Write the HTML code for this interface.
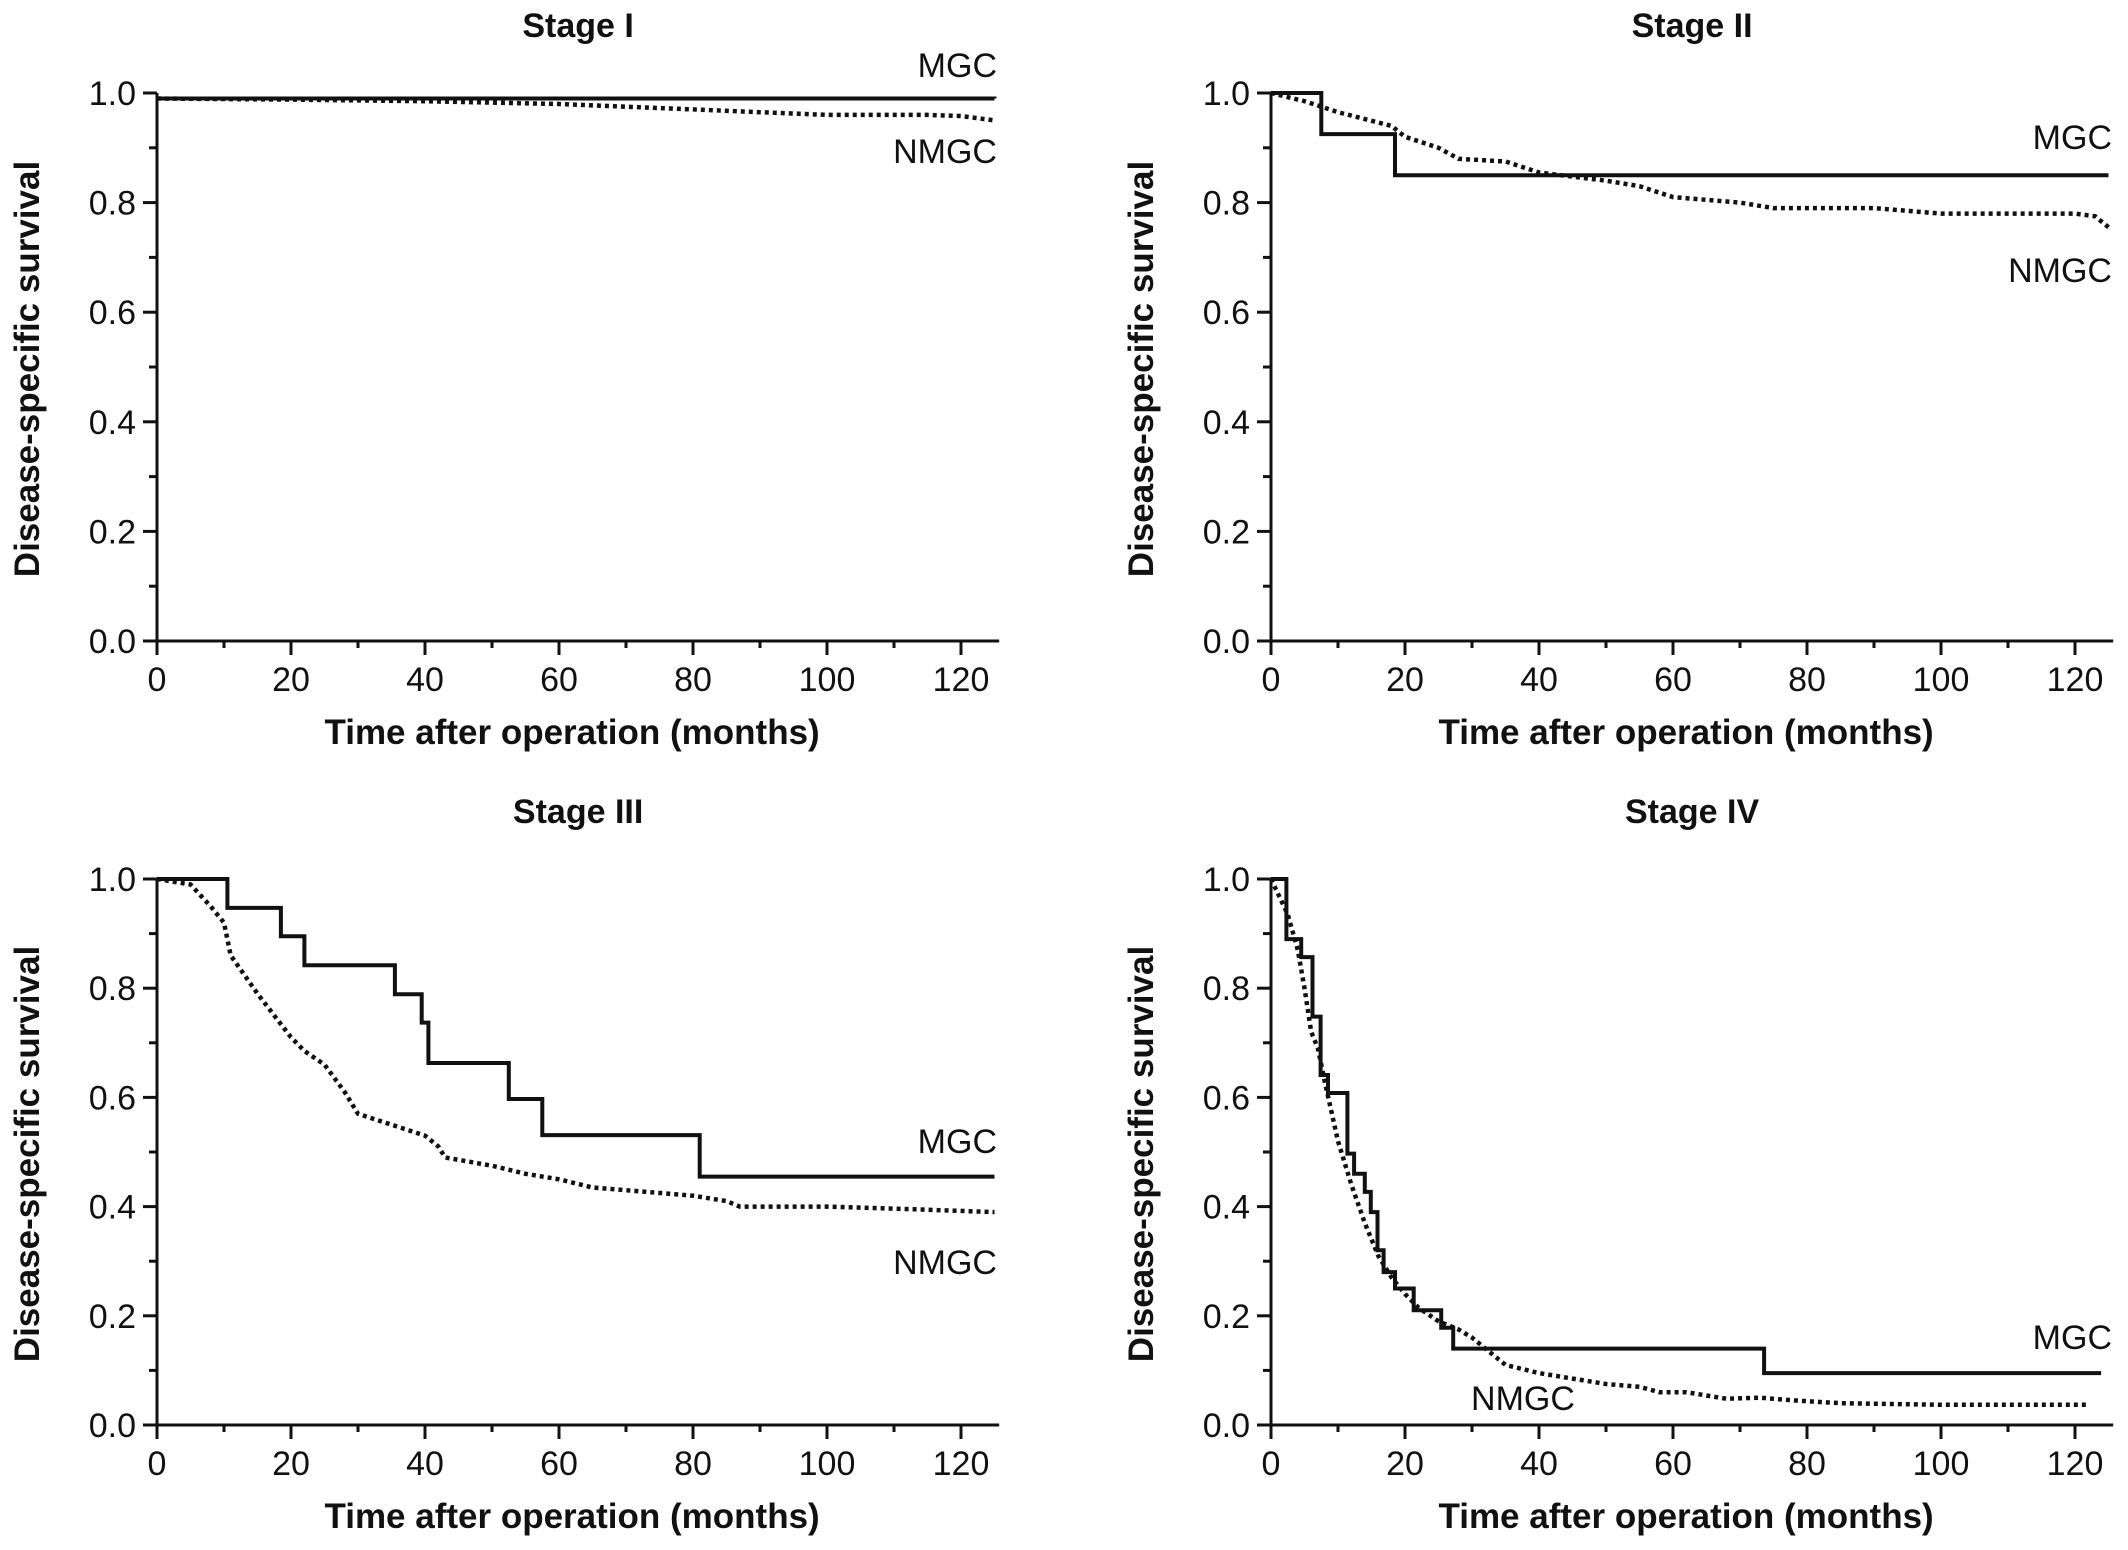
<!DOCTYPE html>
<html><head><meta charset="utf-8">
<style>
html,body{margin:0;padding:0;background:#fff;}
svg{display:block;}
text{font-family:"Liberation Sans Narrow","Liberation Sans",Arial,sans-serif;fill:#111;}
.tick{font-size:34px;}
.lbl{font-size:34px;}
.title{font-family:"Liberation Sans",Arial,sans-serif;font-weight:bold;font-size:34px;}
.axt{font-family:"Liberation Sans",Arial,sans-serif;font-weight:bold;font-size:35px;}
</style></head>
<body>
<svg id="chart" width="2128" height="1550" viewBox="0 0 2128 1550" xmlns="http://www.w3.org/2000/svg"></svg>
<script>
// ---- data ----
const xTicks = [0,20,40,60,80,100,120];
const yTicks = [0.0,0.2,0.4,0.6,0.8,1.0];
const stageTitles = ["Stage I","Stage II","Stage III","Stage IV"];
// MGC step curves: [time, survival after time]
const mgc1 = [[0,0.99],[125,0.99]];
const mgc2 = [[0,1.0],[7.5,0.925],[18.5,0.85],[125,0.85]];
const mgc3 = [[0,1.0],[10.5,0.947],[18.5,0.895],[22,0.842],[35.5,0.789],[39.5,0.737],[40.5,0.663],[52.5,0.597],[57.5,0.531],[81,0.455],[125,0.455]];
const mgc4 = [[0,1.0],[2.3,0.89],[4.5,0.857],[6.2,0.748],[7.4,0.641],[8.5,0.608],[11.4,0.497],[12.4,0.46],[14.0,0.427],[14.9,0.39],[15.9,0.32],[16.8,0.28],[18.5,0.25],[21.3,0.21],[25.4,0.178],[27.2,0.14],[73.6,0.095],[123.9,0.095]];
// NMGC curves
const nmgc1 = [[0,0.99],[20,0.988],[40,0.985],[60,0.98],[80,0.97],[90,0.965],[100,0.96],[115,0.96],[120,0.958],[125,0.95]];
const nmgc2 = [[0,1.0],[5,0.985],[10,0.965],[18,0.94],[20,0.92],[25,0.9],[28,0.88],[35,0.875],[40,0.855],[50,0.84],[55,0.83],[60,0.81],[70,0.80],[75,0.79],[90,0.79],[100,0.78],[120,0.78],[123,0.775],[125,0.755]];
const nmgc3 = [[0,1.0],[5,0.99],[8,0.95],[10,0.92],[11,0.86],[15,0.79],[20,0.71],[22,0.685],[25,0.66],[28,0.61],[30,0.57],[35,0.55],[40,0.53],[42,0.51],[43,0.49],[50,0.475],[55,0.46],[60,0.45],[65,0.435],[70,0.43],[80,0.42],[85,0.41],[87,0.40],[100,0.40],[113,0.395],[125,0.39]];
const nmgc4 = [[0,1.0],[2.5,0.935],[4,0.87],[5,0.80],[6,0.72],[7,0.69],[8,0.63],[10,0.52],[12,0.44],[14,0.37],[16,0.31],[18,0.27],[20,0.24],[22,0.215],[25,0.19],[28,0.175],[30,0.16],[33,0.13],[35,0.11],[40,0.095],[45,0.085],[50,0.075],[55,0.07],[58,0.06],[62,0.06],[68,0.048],[73,0.05],[78,0.045],[85,0.04],[100,0.037],[122,0.037]];
const mgcSeries = [mgc1,mgc2,mgc3,mgc4];
const nmgcSeries = [nmgc1,nmgc2,nmgc3,nmgc4];

// ---- layout ----
const NS="http://www.w3.org/2000/svg";
const svg=document.getElementById('chart');
const panels=[
 {x0:157,y0:641,y1:93, mgcL:[997,77,'end'], nmgcL:[997,163,'end']},
 {x0:1271,y0:641,y1:93, mgcL:[2112,149,'end'], nmgcL:[2112,282,'end']},
 {x0:157,y0:1425,y1:879, mgcL:[997,1153,'end'], nmgcL:[997,1274,'end']},
 {x0:1271,y0:1425,y1:879, mgcL:[2112,1349,'end'], nmgcL:[1523,1410,'middle']}
];
const PXM=6.7, XMAX=125.7;
function el(tag,attrs,parent){const e=document.createElementNS(NS,tag);for(const k in attrs)e.setAttribute(k,attrs[k]);(parent||svg).appendChild(e);return e;}

panels.forEach((p,i)=>{
 const g=el('g',{});
 
 
 const sx=t=>p.x0+t*PXM;
 const sy=v=>p.y0-(p.y0-p.y1)*v;
 const xEnd=sx(XMAX);
 const tt=el('text',{x:(p.x0+xEnd)/2,y:p.y1-56,'text-anchor':'middle','class':'title'},g);
 tt.textContent=stageTitles[i];
 
 
 const ax=el('path',{d:`M${p.x0},${sy(1)} V${p.y0} H${xEnd}`,stroke:'#111','stroke-width':3,fill:'none'},g);
 
 
 for(let v=0;v<=10;v++){const y=sy(v/10);const L=(v%2==0)?14:8;el('line',{x1:p.x0-L,x2:p.x0,y1:y,y2:y,stroke:'#111','stroke-width':3},g);}
 for(let t=0;t<=120;t+=10){const x=sx(t);const L=(t%20==0)?14:7;el('line',{x1:x,x2:x,y1:p.y0,y2:p.y0+L,stroke:'#111','stroke-width':3},g);}
 yTicks.forEach(v=>{const t=el('text',{x:p.x0-21,y:sy(v)+12,'text-anchor':'end','class':'tick'},g);t.textContent=v.toFixed(1);
  
  });
 xTicks.forEach(v=>{const t=el('text',{x:sx(v),y:p.y0+50,'text-anchor':'middle','class':'tick'},g);t.textContent=v;
  
  });
 const xt=el('text',{x:(p.x0+xEnd)/2-6,y:p.y0+103,'text-anchor':'middle','class':'axt'},g);
 xt.textContent='Time after operation (months)';
 
 
 const cy=(p.y0+p.y1)/2+2, cx=p.x0-118;
 const yt=el('text',{x:cx,y:cy,'text-anchor':'middle','class':'axt',transform:`rotate(-90 ${cx} ${cy})`},g);
 yt.textContent='Disease-specific survival';
 
 
 const n=nmgcSeries[i];
 let d=n.map((q,k)=>(k?'L':'M')+sx(q[0]).toFixed(1)+','+sy(q[1]).toFixed(1)).join(' ');
 const nl=el('path',{d:d,stroke:'#111','stroke-width':4.5,fill:'none','stroke-dasharray':'4 4'},g);
 
 
 const m=mgcSeries[i];
 let ds='M'+sx(m[0][0])+','+sy(m[0][1]);
 for(let k=1;k<m.length;k++){ds+=' H'+sx(m[k][0]).toFixed(1)+' V'+sy(m[k][1]).toFixed(1);}
 const ml=el('path',{d:ds,stroke:'#111','stroke-width':4,fill:'none'},g);
 
 
 const a=el('text',{x:p.mgcL[0],y:p.mgcL[1],'text-anchor':p.mgcL[2],'class':'lbl'},g);a.textContent='MGC';
 
 
 const b=el('text',{x:p.nmgcL[0],y:p.nmgcL[1],'text-anchor':p.nmgcL[2],'class':'lbl'},g);b.textContent='NMGC';
 
 
});
</script>
</body></html>
